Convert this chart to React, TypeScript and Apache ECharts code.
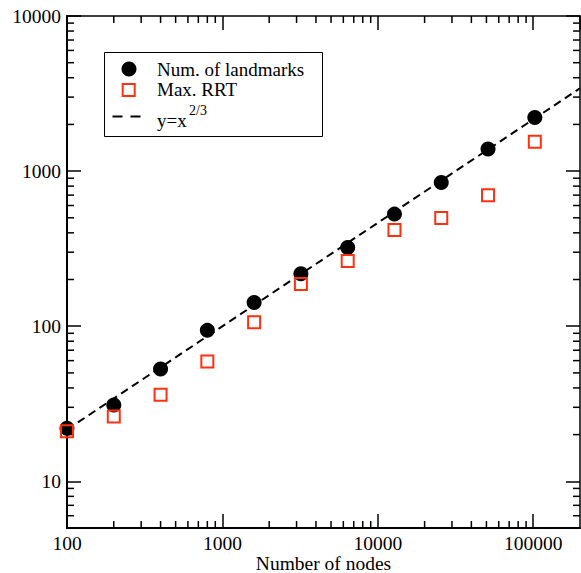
import React, { useEffect, useRef } from "react";
import * as echarts from "echarts";

const NODES = [100, 200, 400, 800, 1600, 3200, 6400, 12800, 25600, 51200, 102400];
const LANDMARKS = [22, 31, 53, 94, 142, 218, 322, 528, 845, 1386, 2215];
const MAX_RRT = [21, 26.2, 36.2, 59.3, 106, 187, 263, 417, 498, 700, 1545];
const FIT_X = [100, 200000];
const FIT_Y = [21.54, 3420];
const X_MINOR = [200, 300, 400, 500, 600, 700, 800, 900, 2000, 3000, 4000, 5000, 6000, 7000, 8000, 9000, 20000, 30000, 40000, 50000, 60000, 70000, 80000, 90000];
const Y_MINOR = [6, 7, 8, 9, 20, 30, 40, 50, 60, 70, 80, 90, 200, 300, 400, 500, 600, 700, 800, 900, 2000, 3000, 4000, 5000, 6000, 7000, 8000, 9000];
const X_MIN = 100, X_MAX = 200000, Y_MIN = 5, Y_MAX = 10000;

const FONT = "Liberation Serif";
const RED = "#ff3010";

export default function App() {
  const ref = useRef<HTMLDivElement>(null);
  useEffect(() => {
    document.body.style.margin = "0";
    const chart = echarts.init(ref.current!, null, { renderer: "svg" });
    const labelFmt = (v: number) => String(Math.round(v));
    const tickStyle = { color: "#000", width: 1.5 };
    chart.setOption({
      animation: false,
      backgroundColor: "#fff",
      grid: { left: 67, right: 1, top: 16, bottom: 45, containLabel: false, outerBoundsMode: "none" },
      xAxis: [
        {
          type: "log", logBase: 10, min: X_MIN, max: X_MAX, position: "bottom",
          axisLine: { lineStyle: { color: "#000", width: 2 } },
          axisTick: { inside: true, length: 14, lineStyle: tickStyle },
          axisLabel: { fontFamily: FONT, fontSize: 19.5, lineHeight: 16, color: "#000", margin: 7, formatter: labelFmt, showMaxLabel: false },
          splitLine: { show: false },
          name: "Number of nodes", nameLocation: "middle", nameGap: 26, nameMoveOverlap: false,
          nameTextStyle: { fontFamily: FONT, fontSize: 19.5, lineHeight: 18, color: "#000" },
        },
        {
          type: "log", logBase: 10, min: X_MIN, max: X_MAX, position: "top",
          axisLine: { lineStyle: { color: "#000", width: 1.5 } },
          axisTick: { inside: true, length: 14, lineStyle: tickStyle },
          axisLabel: { show: false }, splitLine: { show: false },
        },
      ],
      yAxis: [
        {
          type: "log", logBase: 10, min: Y_MIN, max: Y_MAX, position: "left",
          axisLine: { lineStyle: { color: "#000", width: 2 } },
          axisTick: { inside: true, length: 14, lineStyle: tickStyle },
          axisLabel: { fontFamily: FONT, fontSize: 19.5, color: "#000", margin: 6, formatter: labelFmt, showMinLabel: false },
          splitLine: { show: false },
        },
        {
          type: "log", logBase: 10, min: Y_MIN, max: Y_MAX, position: "right",
          axisLine: { lineStyle: { color: "#000", width: 1.5 } },
          axisTick: { inside: true, length: 14, lineStyle: tickStyle },
          axisLabel: { show: false }, splitLine: { show: false },
        },
      ],
      series: [
        {
          type: "custom", silent: true, z: 1,
          data: X_MINOR.map((v) => [v, Y_MIN]),
          renderItem: (params: any, api: any) => {
            const v = api.value(0);
            const b = api.coord([v, Y_MIN]);
            const t = api.coord([v, Y_MAX]);
            return {
              type: "group",
              children: [
                { type: "line", shape: { x1: b[0], y1: b[1], x2: b[0], y2: b[1] - 7 }, style: { stroke: "#000", lineWidth: 1.5 } },
                { type: "line", shape: { x1: t[0], y1: t[1], x2: t[0], y2: t[1] + 7 }, style: { stroke: "#000", lineWidth: 1.5 } },
              ],
            };
          },
        },
        {
          type: "custom", silent: true, z: 1,
          data: Y_MINOR.map((v) => [X_MIN, v]),
          renderItem: (params: any, api: any) => {
            const v = api.value(1);
            const l = api.coord([X_MIN, v]);
            const r = api.coord([X_MAX, v]);
            return {
              type: "group",
              children: [
                { type: "line", shape: { x1: l[0], y1: l[1], x2: l[0] + 7, y2: l[1] }, style: { stroke: "#000", lineWidth: 1.5 } },
                { type: "line", shape: { x1: r[0], y1: r[1], x2: r[0] - 7, y2: r[1] }, style: { stroke: "#000", lineWidth: 1.5 } },
              ],
            };
          },
        },
        {
          name: "y=x^(2/3)", type: "line", z: 2, symbol: "none",
          data: FIT_X.map((x, i) => [x, FIT_Y[i]]),
          lineStyle: { color: "#000", width: 2, type: [8, 5] },
        },
        {
          name: "Num. of landmarks", type: "scatter", z: 3, symbol: "circle", symbolSize: 15,
          data: NODES.map((x, i) => [x, LANDMARKS[i]]),
          itemStyle: { color: "#000", opacity: 1 },
        },
        {
          name: "Max. RRT", type: "scatter", z: 4, symbol: "rect", symbolSize: 12,
          data: NODES.map((x, i) => [x, MAX_RRT[i]]),
          itemStyle: { color: "rgba(0,0,0,0)", borderColor: RED, borderWidth: 2, opacity: 1 },
        },
      ],
      graphic: [
        {
          type: "group", z: 100,
          children: [
            { type: "rect", shape: { x: 104.5, y: 52.5, width: 218, height: 84 }, style: { fill: "#fff", stroke: "#000", lineWidth: 1 } },
            { type: "circle", shape: { cx: 129, cy: 69, r: 7.5 }, style: { fill: "#000" } },
            { type: "rect", shape: { x: 122.7, y: 84, width: 12, height: 12 }, style: { fill: "none", stroke: RED, lineWidth: 2 } },
            { type: "line", shape: { x1: 112.5, y1: 116.5, x2: 140.5, y2: 116.5 }, style: { stroke: "#000", lineWidth: 2, lineDash: [10, 8] } },
            { type: "text", x: 157, y: 69.5, style: { text: "Num. of landmarks", font: `19px "${FONT}"`, fill: "#000", verticalAlign: "middle", align: "left" } },
            { type: "text", x: 157, y: 89, style: { text: "Max. RRT", font: `19px "${FONT}"`, fill: "#000", verticalAlign: "middle", align: "left" } },
            { type: "text", x: 157, y: 120.5, style: { text: "y=x", font: `19px "${FONT}"`, fill: "#000", verticalAlign: "middle", align: "left" } },
            { type: "text", x: 189, y: 110.5, style: { text: "2/3", font: `14px "${FONT}"`, fill: "#000", verticalAlign: "middle", align: "left" } },
          ],
        },
      ],
    });
    return () => chart.dispose();
  }, []);
  return <div ref={ref} style={{ width: 581, height: 573 }} />;
}
